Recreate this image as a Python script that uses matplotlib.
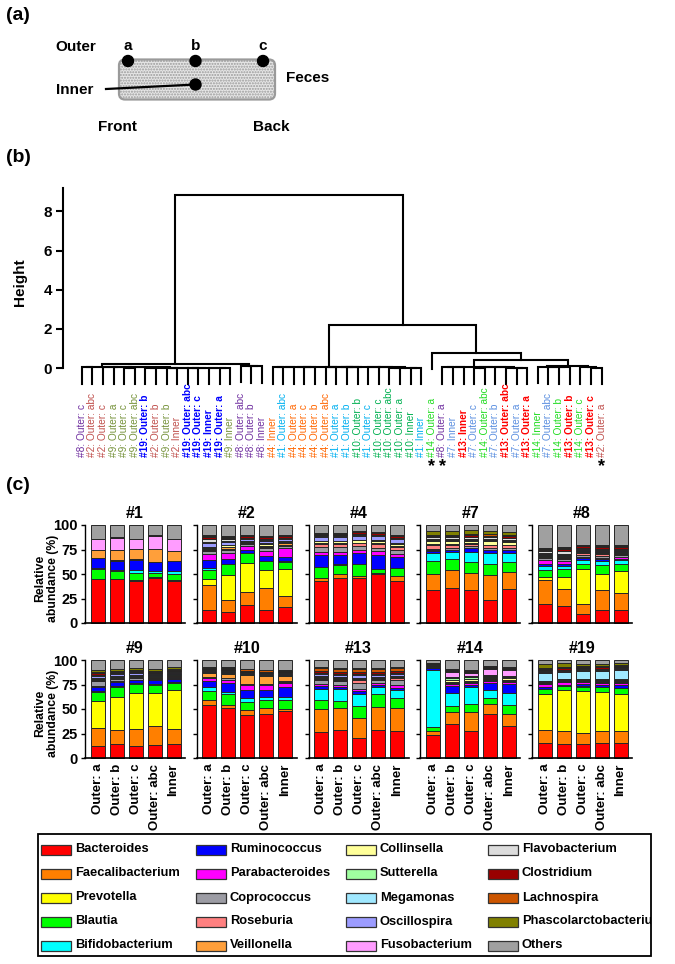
import numpy as np
import matplotlib
matplotlib.use("Agg")
import matplotlib.pyplot as plt
from matplotlib.patches import FancyBboxPatch, Circle, Rectangle

plt.rcParams['font.family'] = ['Liberation Sans', 'DejaVu Sans']

W, H = 675, 964

# ---------------- (b) dendrogram data ----------------
leaf_labels = [
    "#8: Outer: c", "#2: Outer: abc", "#2: Outer: c", "#9: Outer: a", "#9: Outer: c",
    "#9: Outer: abc", "#19: Outer: b", "#2: Outer: b", "#9: Outer: b", "#2: Inner",
    "#19: Outer: abc", "#19: Outer: c", "#19: Inner", "#19: Outer: a", "#9: Inner",
    "#8: Outer: abc", "#8: Outer: b", "#8: Inner", "#4: Inner", "#1: Outer: abc",
    "#4: Outer: a", "#4: Outer: c", "#4: Outer: b", "#4: Outer: abc", "#1: Outer: a",
    "#1: Outer: b", "#10: Outer: b", "#1: Outer: c", "#10: Outer: c", "#10: Outer: abc",
    "#10: Outer: a", "#10: Inner", "#1: Inner", "#14: Outer: a", "#8: Outer: a",
    "#7: Inner", "#13: Inner", "#7: Outer: c", "#14: Outer: abc", "#7: Outer: b",
    "#13: Outer: abc", "#7: Outer: a", "#13: Outer: a", "#14: Inner", "#7: Outer: abc",
    "#14: Outer: b", "#13: Outer: b", "#14: Outer: c", "#13: Outer: c", "#2: Outer: a",
]
starred = ["#14: Outer: a", "#8: Outer: a", "#2: Outer: a"]
subject_colors = {
    "#1": "#00B0F0", "#2": "#C0504D", "#4": "#FF6600", "#7": "#5B8FE0",
    "#8": "#7030A0", "#9": "#77933C", "#10": "#00B050", "#13": "#FF0000",
    "#14": "#22DD22", "#19": "#0000FF",
}
bold_subjects = ["#19", "#13"]

# nested merges: [height, left, right]; ints are leaf indices
clust_a1 = [0.05, [0.03, 0, 1], [0.04, 2, [0.035, 3, [0.03, [0.02, 4, 5],
            [0.025, [0.02, 6, 7], [0.02, [0.015, 8, 9],
             [0.02, [0.015, 10, 11], [0.015, 12, [0.01, 13, 14]]]]]]]]]
clust_a2 = [0.12, 15, [0.08, 16, 17]]
clust_m = [0.07, [0.05, [0.04, [0.03, 18, 19], 20], [0.03, 21, 22]],
           [0.06, [0.05, [0.04, 23, 24], [0.03, 25, 26]],
            [0.04, 27, [0.03, 28, [0.02, [0.015, 29, 30], [0.01, 31, 32]]]]]]
clust_r1 = [0.05, [0.04, [0.03, 34, 35], 36],
            [0.035, [0.02, 37, 38], [0.03, 39, [0.02, 40, [0.01, 41, 42]]]]]
clust_r2 = [0.12, [0.05, 43, [0.04, 44, [0.03, 45, 46]]], [0.03, 47, [0.02, 48, 49]]]
tree = [8.84, [0.22, clust_a1, clust_a2],
        [2.2, clust_m, [0.77, 33, [0.39, clust_r1, clust_r2]]]]
hang = 0.84

# ---------------- (c) relative abundance data ----------------
genera = ["Bacteroides", "Faecalibacterium", "Prevotella", "Blautia", "Bifidobacterium",
          "Ruminococcus", "Parabacteroides", "Coprococcus", "Roseburia", "Veillonella",
          "Collinsella", "Sutterella", "Megamonas", "Oscillospira", "Fusobacterium",
          "Flavobacterium", "Clostridium", "Lachnospira", "Phascolarctobacterium", "Others"]
genus_colors = ["#FF0000", "#FF7F00", "#FFFF00", "#00FF00", "#00FFFF",
                "#0000FF", "#FF00FF", "#9C9CA4", "#FF8080", "#FF9F3A",
                "#FFFF99", "#A0FFA0", "#A0E8FF", "#9C9CFF", "#FF9CFF",
                "#DCDCDC", "#990000", "#CC5500", "#808000", "#A0A0A0"]
samples = ["Outer: a", "Outer: b", "Outer: c", "Outer: abc", "Inner"]
subjects = ["#1", "#2", "#4", "#7", "#8", "#9", "#10", "#13", "#14", "#19"]

# per sample: the 19 named genera (Others = remainder)
ab_1 = [
    [44.7, 0.5, 0, 9.8, 1.5, 9.5, 0.3, 0.3, 0.2, 7.5, 0, 0, 0, 0.2, 11, 0, 0.5, 0, 0],
    [44.4, 1, 0, 7.5, 1.5, 9, 0.3, 0.3, 0.2, 10, 0, 0, 0, 0.2, 12.3, 0, 0.6, 0, 0],
    [43, 0.5, 0, 7.5, 3, 10.5, 0.3, 0.2, 0.2, 10, 0, 0, 0, 0.2, 10, 0, 0.6, 0, 0],
    [46.4, 0.5, 0, 4.6, 1.5, 9, 0.3, 0.2, 0.2, 13, 0, 0, 0, 0.2, 13.3, 0, 0.5, 0, 0],
    [43, 0.5, 0, 7, 3, 9.5, 0.3, 0.2, 0.2, 9.4, 0, 0, 0, 0.2, 12, 0, 0.6, 0, 0],
]
ab_2 = [
    [13.6, 25, 6.8, 8.6, 2.4, 7.5, 6.8, 3, 1, 1, 1, 0.5, 0.5, 4, 0.5, 4, 2, 1, 0.5],
    [11.3, 12, 25.6, 11.2, 0.5, 4.5, 6.5, 3, 1, 1.5, 2, 0.5, 0.5, 3, 0.5, 2, 1.5, 1, 0.5],
    [18, 13.7, 29.7, 9.6, 0.3, 3.4, 4, 1.5, 1, 1, 1, 0.5, 0.3, 1.5, 0.3, 1, 1.5, 1, 0.5],
    [13.6, 22.2, 18.2, 9, 0.5, 5, 5.4, 2.5, 1, 1.5, 1.5, 0.5, 0.5, 2.5, 0.5, 1.5, 1.5, 1, 0.5],
    [16.4, 10.9, 27.3, 7.9, 0.3, 4.8, 9.4, 2, 1, 1.5, 1.5, 0.5, 0.3, 2, 0.3, 1, 1.5, 1, 0.5],
]
ab_4 = [
    [42.7, 3.7, 0, 10.9, 0.3, 11.4, 3.7, 5, 3, 0.5, 2, 0.5, 0.3, 4, 0.3, 1, 2, 0.5, 0.5],
    [46.4, 3.6, 0, 9.4, 0.3, 9.9, 3.1, 5, 3, 0.5, 2, 0.5, 0.3, 4, 0.3, 1, 2, 0.5, 0.5],
    [46.4, 2, 0, 11.6, 0.3, 11.4, 2.7, 4, 3, 0.5, 2.5, 0.5, 0.3, 4, 0.3, 1, 2, 0.5, 0.5],
    [49.5, 1.7, 0, 3.4, 0.3, 14.1, 4.7, 3, 4, 0.5, 2, 1, 0.3, 4, 0.3, 1, 2, 0.5, 0.5],
    [42.7, 5.1, 0, 8.5, 0.3, 11, 2.4, 4, 4, 0.5, 2, 1, 0.3, 4, 0.3, 1, 2, 0.5, 0.5],
]
ab_7 = [
    [33.4, 16.4, 0, 13.7, 7.5, 2.7, 0.5, 1.5, 4, 0.5, 3, 0.5, 0.3, 1, 0.3, 2, 1.5, 1.5, 3.5],
    [35.8, 18.2, 0, 11.2, 7.5, 1.5, 0.5, 1.5, 3.5, 0.5, 3, 0.5, 0.3, 1, 0.3, 2, 1.5, 1.5, 3.5],
    [33.4, 17.8, 0, 11.3, 10.2, 3.4, 0.5, 1.5, 3, 0.5, 2.5, 0.5, 0.3, 1, 0.3, 2, 1.5, 1.5, 3.5],
    [23.2, 25.6, 0, 11.2, 11, 3.4, 0.5, 1.5, 3, 0.5, 3.5, 0.5, 0.3, 1, 0.3, 2, 1.5, 1.5, 3.5],
    [34.5, 17.7, 0, 10.3, 9.2, 2.5, 0.5, 1.5, 3, 0.5, 3, 0.5, 0.3, 1, 0.3, 2, 1.5, 1.5, 3.5],
]
ab_8 = [
    [19.8, 23.9, 3.3, 7, 4, 2.7, 3.3, 2, 1, 0.5, 1, 0.5, 0.3, 1.5, 0.3, 2, 1.5, 1, 1],
    [17.7, 17.3, 12, 8, 3, 2.7, 2.5, 2, 1.5, 0.5, 1, 0.5, 0.3, 1.5, 0.3, 3, 1.5, 1, 1],
    [9.6, 10.2, 34.8, 6.1, 3.3, 2, 1.5, 2, 1.5, 0.5, 1, 0.5, 0.3, 1.5, 0.3, 1, 2, 1, 1],
    [13, 21, 15.5, 9.2, 4.3, 2, 1.5, 2, 1.5, 0.5, 1, 0.5, 0.3, 1.5, 0.3, 1, 2, 1, 1],
    [13.6, 17.1, 22.2, 7.8, 3.3, 1.7, 1.5, 2, 1.5, 0.5, 1, 0.5, 0.3, 1.5, 0.3, 1, 2, 1, 1],
]
ab_9 = [
    [11.9, 18.6, 28.1, 9.2, 0.5, 4.6, 0.5, 5, 1, 0.5, 1, 0.5, 0.3, 1.5, 0.3, 1, 2, 1, 2],
    [14.2, 14.6, 33.9, 10.2, 0.5, 4.6, 0.5, 2, 1, 0.5, 1, 0.5, 0.3, 1.5, 0.3, 1, 1.5, 1, 1.5],
    [11.9, 17.6, 36.5, 9.6, 0.5, 3.4, 0.5, 1.5, 1, 0.5, 1, 0.5, 0.3, 1.5, 0.3, 1, 1.5, 1, 2],
    [13.2, 19, 34.6, 7.8, 0.5, 4, 0.5, 1.5, 1, 0.5, 1, 0.5, 0.3, 1, 0.3, 1, 1.5, 1, 2],
    [14.6, 14.9, 40, 7.5, 0.5, 3.3, 0.5, 1.5, 1, 0.5, 0.5, 0.5, 0.3, 1.5, 0.3, 1, 1.5, 1, 1.5],
]
ab_10 = [
    [54.2, 5.1, 0, 9.5, 3.4, 6.8, 2.4, 1, 0.5, 4, 0.5, 0.5, 0.3, 1, 0.3, 1, 1, 0.5, 1],
    [51.5, 2.1, 0, 11.8, 2.4, 9.2, 3, 1.5, 0.5, 4, 0.5, 0.5, 0.3, 1.5, 0.3, 1, 1, 0.5, 1],
    [44, 4.5, 0, 9.1, 3.4, 8.5, 4.5, 1.5, 0.5, 8.4, 0.5, 0.5, 0.3, 1, 0.3, 1, 1, 1.5, 0.5],
    [45, 5.8, 0, 8.5, 2.5, 7.7, 4.5, 1.5, 0.5, 7.5, 0.5, 0.5, 0.3, 1, 0.3, 1, 1, 1.5, 0.5],
    [47.5, 2.3, 0, 9.5, 2.5, 10.4, 4.1, 1.5, 0.5, 5, 0.5, 1, 0.3, 1, 0.3, 1, 1, 0.5, 0.5],
]
ab_13 = [
    [27, 22.8, 0, 9.5, 10.9, 2.8, 2.5, 4, 1.5, 0.5, 1, 0.5, 0.3, 2, 0.3, 1, 2, 3, 1],
    [28.8, 22, 0, 7.8, 11.9, 2.4, 1.7, 4, 1.5, 0.5, 1, 0.5, 0.3, 2, 0.3, 1, 2, 3, 1],
    [19.9, 21.1, 0, 12, 12, 3.5, 1.7, 6, 3, 0.5, 1, 0.5, 0.3, 3, 0.3, 1, 2, 3, 1],
    [28.8, 23.6, 0, 13.4, 6.2, 2.4, 1.7, 3, 1.5, 0.5, 1, 0.5, 0.3, 2, 0.3, 1, 2, 3, 1],
    [28, 22.7, 0, 10.3, 8.2, 2.7, 2.7, 5, 2, 0.5, 1, 0.5, 0.3, 2, 0.3, 1, 2, 3, 1],
]
ab_14 = [
    [23, 4.4, 0, 4.4, 57.9, 2, 0.5, 0.5, 0.3, 0.3, 0.3, 0.3, 0.3, 0.5, 0.5, 0.3, 0.5, 0.3, 0.3],
    [34.2, 12.8, 0, 6, 13.8, 6.2, 2.3, 1, 0.5, 1, 2, 1.5, 0.3, 1, 5.2, 1, 1, 0.5, 0.5],
    [28, 19, 0, 8.5, 17.1, 1.5, 2, 1, 0.5, 1, 2, 2, 0.3, 1, 3, 1, 1, 0.5, 0.5],
    [44.5, 10.3, 0, 6.2, 8.2, 7.8, 1.7, 1, 0.5, 1, 1.5, 1, 0.3, 1, 6, 1, 1, 0.5, 0.5],
    [32.5, 12.5, 0, 9, 12.8, 9.2, 1.5, 1, 0.5, 1, 1.5, 1, 0.3, 1, 6.4, 1, 1, 0.5, 0.5],
]
ab_19 = [
    [15.4, 13.6, 36, 5.2, 0.5, 2, 2.5, 1, 0.5, 0.5, 1, 0.5, 8.5, 1, 0.3, 1, 1.5, 1, 4],
    [14.7, 13.3, 41.2, 3.8, 0.5, 1.5, 2.5, 1, 0.5, 0.5, 1, 0.5, 7, 1, 0.3, 1, 1.5, 1, 4],
    [14.7, 11, 42.3, 4.6, 0.5, 2, 2, 1, 0.5, 0.5, 1, 0.5, 8.5, 1, 0.3, 1, 1.5, 1, 2.5],
    [15.4, 12.6, 39, 5, 0.5, 2.5, 2, 1, 0.5, 0.5, 1, 0.5, 8.5, 1, 0.3, 1, 1.5, 1, 2],
    [15, 12.4, 37.6, 6.2, 0.5, 3, 2, 1, 0.5, 0.5, 1, 0.5, 10, 1, 0.3, 1, 1.5, 1, 2],
]
abundance = {"#1": ab_1, "#2": ab_2, "#4": ab_4, "#7": ab_7, "#8": ab_8,
             "#9": ab_9, "#10": ab_10, "#13": ab_13, "#14": ab_14, "#19": ab_19}


def px(l, t, w, h):
    # pixel box (top-left origin) -> figure fraction
    return [l / W, 1 - (t + h) / H, w / W, h / H]


fig = plt.figure(figsize=(W / 100, H / 100), dpi=100)

# overlay in pixel units for (a), panel letters and legend
ov = fig.add_axes([0, 0, 1, 1])
ov.set_xlim(0, W)
ov.set_ylim(H, 0)
ov.axis("off")

for lab, y in [("(a)", 16), ("(b)", 157), ("(c)", 485)]:
    ov.text(6, y, lab, fontsize=14, fontweight="bold", va="center", ha="left")

# ---- (a) schematic ----
ov.add_patch(FancyBboxPatch((119, 59.5), 156, 40, boxstyle="round,pad=0,rounding_size=6",
                            facecolor="#E6E6E6", edgecolor="#9A9A9A", lw=1.6, hatch="......"))
for x, y in [(128, 61), (195.5, 61), (263, 61), (195.5, 84.5)]:
    ov.add_patch(Circle((x, y), 5.5, color="black", zorder=3))
ov.plot([106, 195.5], [89, 84.5], color="black", lw=1.6)
big = dict(fontsize=11, fontweight="bold", va="center", ha="center")
ov.text(76, 47, "Outer", **big)
for x, t in [(128, "a"), (195.5, "b"), (263, "c")]:
    ov.text(x, 46, t, **big)
ov.text(75, 89.5, "Inner", **big)
ov.text(308, 78, "Feces", **big)
ov.text(117, 127, "Front", **big)
ov.text(271, 127, "Back", **big)

# ---- (b) dendrogram ----
axd = fig.add_axes(px(63, 188, 557, 200))
axd.set_xlim(-1.76, 50.74)
axd.set_ylim(-1.02, 9.2)


def node_pos(node):
    if isinstance(node, int):
        return node
    return (node_pos(node[1]) + node_pos(node[2])) / 2


def draw_node(node):
    h, left, right = node
    xs = [node_pos(left), node_pos(right)]
    ys = [c[0] if isinstance(c, list) else h - hang for c in (left, right)]
    axd.plot([xs[0], xs[0], xs[1], xs[1]], [ys[0], h, h, ys[1]],
             color="black", lw=1.5, solid_joinstyle="miter", clip_on=False)
    for c in (left, right):
        if isinstance(c, list):
            draw_node(c)


draw_node(tree)

lab_y = -(457 - 368) / 19.57
star_y = -(467 - 368) / 19.57
for i, lab in enumerate(leaf_labels):
    subj = lab.split(":")[0]
    axd.text(i, lab_y, lab, rotation=90, ha="center", va="bottom", fontsize=7.3,
             color=subject_colors[subj],
             fontweight="bold" if subj in bold_subjects else "normal")
    if lab in starred:
        axd.text(i, star_y, "*", ha="center", va="center", fontsize=13, fontweight="bold")

for s in ["top", "right", "bottom"]:
    axd.spines[s].set_visible(False)
axd.spines["left"].set_bounds(0, 9.2)
axd.spines["left"].set_linewidth(1.5)
axd.set_xticks([])
axd.set_yticks([0, 2, 4, 6, 8])
axd.set_yticklabels(["0", "2", "4", "6", "8"], fontsize=11, fontweight="bold")
axd.tick_params(axis="y", length=5, width=1.5, pad=3)
axd.set_ylabel("Height", fontsize=11, fontweight="bold")
axd.yaxis.set_label_coords(-0.064, 0.53)

# ---- (c) stacked bars ----
x = np.arange(len(samples))
for k, subj in enumerate(subjects):
    row, col = divmod(k, 5)
    top = 525 if row == 0 else 660
    ax = fig.add_axes(px(85 + col * 111.75, top, 100, 98))
    vals = np.array(abundance[subj], dtype=float)
    vals = np.column_stack([vals, 100 - vals.sum(axis=1)])
    bottom = np.zeros(len(samples))
    for g in range(len(genera)):
        ax.bar(x, vals[:, g], 0.74, bottom=bottom, color=genus_colors[g],
               edgecolor="#262626", linewidth=0.7, clip_on=False)
        bottom += vals[:, g]
    ax.set_xlim(-0.66, 4.6)
    ax.set_ylim(0, 100)
    ax.spines["top"].set_visible(False)
    ax.spines["right"].set_visible(False)
    ax.spines["left"].set_linewidth(1.0)
    ax.spines["bottom"].set_linewidth(1.2)
    ax.set_title(subj, fontsize=11.5, fontweight="bold", pad=5)
    ax.set_yticks([0, 25, 50, 75, 100])
    ax.tick_params(axis="y", length=3, width=1, pad=2)
    ax.tick_params(axis="x", length=0, pad=4)
    ax.set_xticks(x)
    if col == 0:
        ax.set_yticklabels(["0", "25", "50", "75", "100"], fontsize=10.5, fontweight="bold")
        ax.set_ylabel("Relative\nabundance (%)", fontsize=8.8, fontweight="bold", linespacing=1.1)
        ax.yaxis.set_label_coords(-0.26, 0.46)
    else:
        ax.set_yticklabels([])
    if row == 1:
        ax.set_xticklabels(samples, rotation=90, fontsize=9.5, fontweight="bold")
    else:
        ax.set_xticklabels([])

# ---- legend ----
leg_box = Rectangle((38, 834), 613, 122, fill=False, edgecolor="black", lw=1.3)
ov.add_patch(leg_box)
leg_cols = [41, 196, 346, 488]
for i, (g, c) in enumerate(zip(genera, genus_colors)):
    col, row = divmod(i, 5)
    yc = 849.5 + row * 24
    ov.add_patch(Rectangle((leg_cols[col], yc - 5), 30, 10, facecolor=c,
                           edgecolor="#333333", lw=0.9))
    t = ov.text(leg_cols[col] + 34, yc, g, fontsize=9.3, fontweight="bold",
                va="center", ha="left")
    t.set_clip_path(leg_box)
    t.set_clip_on(True)

fig.savefig("out.png", dpi=100)
